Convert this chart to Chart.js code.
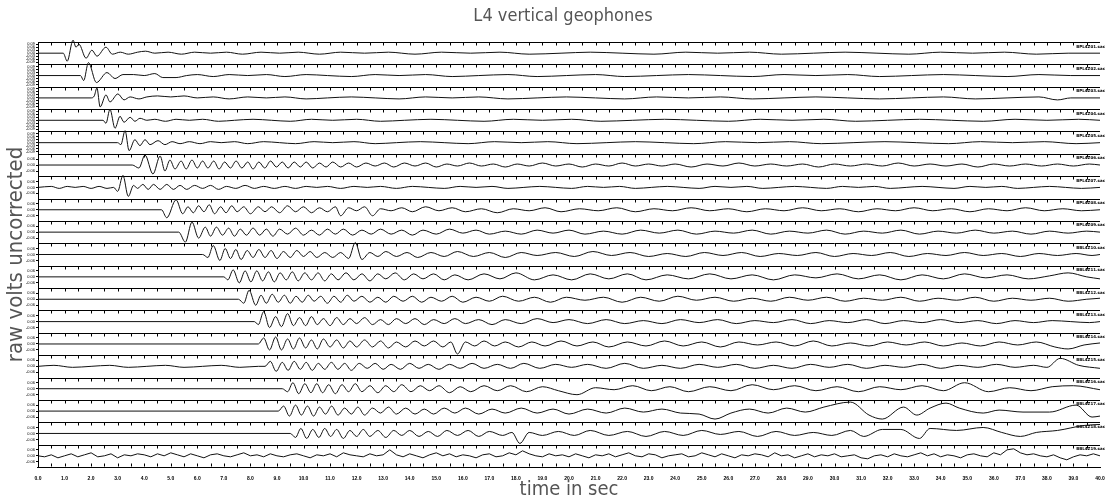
<!DOCTYPE html>
<html><head><meta charset="utf-8">
<script src="https://cdn.jsdelivr.net/npm/chart.js@4.4.1/dist/chart.umd.min.js"></script>
<style>html,body{margin:0;padding:0;background:#fff;overflow:hidden}</style>
</head><body>
<canvas id="c" width="1107" height="504" style="display:block;width:1107px;height:504px"></canvas>
<script>
// ---------- text ----------
const TITLE = 'L4 vertical geophones';
const X_TITLE = 'time in sec';
const Y_TITLE = 'raw volts uncorrected';
const STATION_LABELS = ['BPL4Z01.sac','BPL4Z02.sac','BPL4Z03.sac','BPL4Z04.sac','BPL4Z05.sac','BPL4Z06.sac','BPL4Z07.sac','BPL4Z08.sac','BPL4Z09.sac','BBL4Z10.sac','BBL4Z11.sac','BBL4Z12.sac','BBL4Z13.sac','BBL4Z14.sac','BBL4Z15.sac','BBL4Z16.sac','BBL4Z17.sac','BBL4Z18.sac','BBL4Z19.sac'];
// ---------- axes ----------
const X_MIN = 0, X_MAX = 40, X_TICK_STEP = 1, X_MINOR_STEP = 0.5;
const Y_TICKS_TOP = [-9,-6,-3,0,3,6,9];
const Y_TICKS_LOW = [-6,0,6];
// ---------- traces: [time, value, time, value, ...] ----------
const T1 = [0,0, 0.95,0, 1.1,-8, 1.32,13, 1.43,6, 1.54,9, 1.81,-5, 2.03,3, 2.22,-3, 2.56,6, 2.8,-1, 3.1,1, 3.4,-1, 3.75,1, 4.05,2, 4.4,0, 4.9,1, 5.4,-1, 5.9,1, 6.5,0, 7.1,1, 7.7,-1, 8.4,1, 9.1,0, 9.8,1, 10.6,-1, 11.4,1, 12.3,0, 13.2,1, 14.2,-1, 15.2,1, 16.3,0, 17.4,1, 18.5,-1, 19.7,0, 20.8,1, 22,0, 23.2,-1, 24.4,1, 25.6,0, 26.8,1, 28,-1, 29.2,0, 30.4,1, 31.6,0, 32.8,-1, 34,1, 35.2,0, 36.4,1, 37.6,-1, 38.8,0, 40,0];
const T2 = [0,0, 1.6,0, 1.72,-5, 1.9,13, 2.2,-7, 2.6,3, 2.9,-3, 3.2,1, 3.6,1, 4.0,0, 4.4,2, 4.7,-2, 5.2,-2, 5.6,0, 6.0,1, 6.6,-1, 7.2,1, 7.9,0, 8.6,1, 9.3,-1, 10.1,1, 10.9,0, 11.8,-1, 12.7,1, 13.6,0, 14.6,1, 15.6,-1, 16.6,0, 17.7,1, 18.8,-1, 19.9,0, 21,1, 22.1,-1, 23.3,0, 24.5,1, 25.7,0, 26.9,-1, 28.1,1, 29.3,0, 30.5,1, 31.7,-1, 32.9,0, 34.1,1, 35.3,0, 36.5,-1, 37.7,1, 38.9,0, 40,0];
const T3 = [0,0, 2.0,0, 2.12,2, 2.22,10, 2.34,-9, 2.56,3, 2.71,-4, 3.01,4, 3.24,-2, 3.47,1, 3.8,-1, 4.1,1, 4.5,2, 5.0,1, 5.5,2, 6.0,0, 6.6,1, 7.2,-1, 7.9,1, 8.6,0, 9.3,1, 10.1,-1, 10.9,0, 11.8,1, 12.7,0, 13.6,-1, 14.6,1, 15.6,0, 16.6,1, 17.7,-1, 18.8,0, 19.9,1, 21,0, 22.1,-1, 23.3,1, 24.5,0, 25.7,1, 26.9,-1, 28.1,0, 29.3,1, 30.5,0, 31.7,-1, 32.9,0, 34.1,1, 35.3,-1, 36.5,0, 37.7,1, 38.4,-2, 38.9,0, 40,0];
const T4 = [0,0, 2.45,0, 2.56,-3, 2.71,11, 2.9,-8, 3.09,4, 3.24,-2, 3.47,3, 3.65,-1, 3.84,2, 4.1,0, 4.4,1, 4.8,-1, 5.2,1, 5.7,0, 6.2,1, 6.8,-1, 7.4,0, 8.1,1, 8.8,0, 9.5,-1, 10.3,1, 11.1,0, 12,1, 12.9,-1, 13.8,0, 14.8,1, 15.8,0, 16.8,-1, 17.9,1, 19,0, 20.1,1, 21.2,-1, 22.4,0, 23.6,1, 24.8,0, 26,-1, 27.2,1, 28.4,0, 29.6,1, 30.8,-1, 32,0, 33.2,1, 34.4,0, 35.6,-1, 36.8,1, 38,0, 39.2,1, 40,0];
const T5 = [0,0, 3.0,0, 3.12,-2, 3.28,12, 3.43,-8, 3.65,3, 3.84,-3, 4.03,3, 4.22,-2, 4.52,2, 4.78,-2, 5.05,1, 5.35,-1, 5.7,1, 6.1,-1, 6.5,1, 6.9,0, 7.4,1, 7.9,-1, 8.5,1, 9.1,0, 9.7,-1, 10.4,1, 11.1,0, 11.9,1, 12.7,-1, 13.5,0, 14.4,1, 15.3,0, 16.2,-1, 17.2,1, 18.2,0, 19.2,1, 20.3,-1, 21.4,0, 22.5,1, 23.6,0, 24.7,-1, 25.9,1, 27.1,0, 28.3,1, 29.5,-1, 30.7,0, 31.9,1, 33.1,0, 34.3,-1, 35.5,1, 36.7,0, 37.9,1, 39.1,-1, 40,0];
const T6 = [0,0, 3.55,0, 3.8,-3, 4.03,10, 4.33,-9, 4.6,9, 4.78,-6, 4.97,5, 5.16,-4, 5.39,4, 5.58,-4, 5.8,5, 6.0,-3, 6.2,4, 6.4,-3, 6.62,4, 6.82,-4, 7.03,3, 7.25,-3, 7.46,4, 7.68,-3, 7.9,3, 8.1,-4, 8.32,3, 8.54,-3, 8.76,4, 8.98,-2, 9.2,3, 9.42,-3, 9.65,3, 9.88,-2, 10.1,3, 10.35,-3, 10.6,2, 10.85,-2, 11.1,3, 11.4,-2, 11.7,2, 12.0,-2, 12.35,2, 12.7,-1, 13.05,2, 13.4,-2, 13.8,2, 14.2,-1, 14.6,2, 15.0,-2, 15.4,1, 15.8,-1, 16.25,2, 16.7,-1, 17.15,1, 17.6,-2, 18.05,1, 18.5,-1, 19.0,2, 19.5,-1, 20.0,1, 20.5,-2, 21.0,1, 21.5,-1, 22.0,2, 22.5,-1, 23.0,1, 23.5,-1, 24.0,1, 24.6,-2, 25.2,1, 25.8,-1, 26.4,2, 27.0,-1, 27.6,1, 28.2,-1, 28.8,1, 29.4,-2, 30.0,1, 30.6,-1, 31.2,1, 31.8,-1, 32.4,2, 33.0,-1, 33.6,1, 34.2,-1, 34.8,1, 35.4,-2, 36.0,1, 36.6,-1, 37.2,1, 37.8,-1, 38.4,1, 39.0,-1, 39.6,1, 40,0];
const T7 = [0,0, 0.5,1, 0.8,-1, 1.1,1, 1.4,0, 1.7,1, 2.0,-1, 2.3,1, 2.6,-1, 2.85,0, 3.0,-4, 3.2,12, 3.4,-9, 3.6,2, 3.75,-1, 3.95,3, 4.15,-2, 4.35,3, 4.6,-2, 4.85,3, 5.1,-2, 5.35,2, 5.6,-2, 5.9,2, 6.2,-1, 6.5,2, 6.8,-2, 7.1,1, 7.45,-1, 7.8,2, 8.15,-1, 8.5,1, 8.9,-1, 9.3,1, 9.7,-1, 10.1,1, 10.5,0, 10.9,1, 11.4,-1, 11.9,1, 12.4,0, 12.9,1, 13.5,-1, 14.1,1, 14.7,0, 15.3,-1, 15.9,1, 16.5,0, 17.1,1, 17.7,-1, 18.3,0, 18.9,1, 19.5,0, 20.1,-1, 20.7,1, 21.3,0, 21.9,1, 22.5,-1, 23.1,0, 23.7,1, 24.3,0, 24.9,-1, 25.5,1, 26.1,0, 26.7,1, 27.3,-1, 27.9,0, 28.5,1, 29.1,0, 29.7,-1, 30.3,1, 30.9,0, 31.5,1, 32.1,-1, 32.7,0, 33.3,1, 33.9,0, 34.5,-1, 35.1,1, 35.7,0, 36.3,1, 36.9,-1, 37.5,0, 38.1,1, 38.7,0, 39.3,-1, 40,0];
const T8 = [0,0, 4.65,0, 4.85,-8, 5.2,10, 5.45,-4, 5.65,3, 5.85,-3, 6.05,4, 6.25,-2, 6.45,5, 6.65,-4, 6.88,3, 7.08,-3, 7.3,4, 7.5,-2, 7.75,3, 8.0,-4, 8.3,3, 8.55,-2, 8.8,3, 9.1,-3, 9.4,4, 9.7,-2, 10.0,3, 10.3,-3, 10.6,2, 10.9,-2, 11.2,3, 11.4,-6, 11.7,2, 12.0,-1, 12.3,3, 12.6,-6, 12.9,1, 13.3,-1, 13.7,2, 14.1,-2, 14.6,3, 15.1,-1, 15.6,2, 16.1,-2, 16.7,1, 17.3,-3, 17.9,1, 18.5,-1, 19.1,2, 19.7,-2, 20.4,1, 21.1,-1, 21.8,2, 22.5,-2, 23.2,1, 23.9,-1, 24.6,2, 25.3,-1, 26.0,1, 26.7,-2, 27.4,1, 28.1,-1, 28.8,2, 29.5,-1, 30.2,1, 30.9,-2, 31.6,1, 32.3,-1, 33.0,2, 33.7,-1, 34.4,1, 35.1,-2, 35.8,1, 36.5,-1, 37.2,2, 37.9,-1, 38.6,1, 39.3,-1, 40,0];
const T9 = [0,0, 5.3,0, 5.55,-10, 5.8,10, 6.05,-6, 6.3,5, 6.5,-4, 6.72,5, 6.95,-3, 7.18,4, 7.4,-4, 7.62,3, 7.85,-3, 8.1,4, 8.35,-3, 8.6,3, 8.85,-4, 9.1,3, 9.4,-2, 9.7,4, 10.0,-3, 10.3,2, 10.6,-3, 10.9,3, 11.2,-2, 11.5,3, 11.85,-3, 12.2,2, 12.55,-2, 12.9,3, 13.3,-2, 13.7,2, 14.1,-3, 14.5,2, 15.0,-2, 15.5,3, 16.0,-1, 16.5,2, 17.0,-2, 17.6,1, 18.2,-2, 18.8,2, 19.4,-1, 20.0,2, 20.6,-2, 21.3,1, 22.0,-2, 22.7,2, 23.4,-1, 24.1,2, 24.8,-2, 25.5,1, 26.2,-1, 26.9,2, 27.6,-2, 28.3,1, 29.0,-1, 29.7,2, 30.4,-2, 31.1,1, 31.8,-1, 32.5,2, 33.2,-2, 33.9,1, 34.6,-1, 35.3,2, 36.0,-1, 36.7,1, 37.4,-2, 38.1,1, 38.8,-1, 39.5,1, 40,0];
const T10 = [0,0, 6.2,0, 6.4,-3, 6.6,9, 6.85,-6, 7.05,6, 7.25,-4, 7.45,5, 7.65,-5, 7.88,4, 8.1,-3, 8.32,5, 8.55,-3, 8.78,4, 9.0,-4, 9.25,3, 9.5,-3, 9.75,4, 10.0,-2, 10.25,3, 10.5,-3, 10.8,2, 11.1,-3, 11.4,2, 11.7,-4, 11.95,12, 12.2,-5, 12.5,2, 12.8,-2, 13.1,3, 13.5,-2, 13.9,2, 14.3,-3, 14.8,2, 15.3,-2, 15.8,3, 16.4,-2, 17.0,2, 17.6,-3, 18.2,2, 18.8,-1, 19.5,2, 20.2,-2, 20.9,3, 21.6,-1, 22.3,2, 23.0,-2, 23.7,1, 24.4,-2, 25.1,2, 25.8,-1, 26.5,2, 27.2,-2, 27.9,1, 28.6,-1, 29.3,2, 30.0,-2, 30.7,1, 31.4,-1, 32.1,2, 32.8,-2, 33.5,1, 34.2,-1, 34.9,2, 35.6,-1, 36.3,1, 37.0,-2, 37.7,1, 38.4,-1, 39.1,1, 39.7,-1, 40,0];
const T11 = [0,0, 7.0,0, 7.15,-3, 7.35,7, 7.58,-6, 7.8,6, 8.02,-5, 8.24,6, 8.46,-4, 8.68,5, 8.9,-5, 9.12,4, 9.35,-3, 9.58,5, 9.8,-4, 10.05,4, 10.3,-3, 10.55,4, 10.8,-4, 11.05,3, 11.3,-3, 11.6,4, 11.9,-3, 12.2,3, 12.5,-4, 12.8,3, 13.1,-2, 13.45,4, 13.8,-3, 14.15,3, 14.5,-2, 14.9,3, 15.3,-3, 15.7,2, 16.2,-3, 16.8,3, 17.4,-2, 18.0,4, 18.7,-3, 19.4,2, 20.1,-3, 20.8,3, 21.5,-2, 22.2,3, 22.9,-3, 23.7,2, 24.5,-2, 25.3,3, 26.1,-2, 26.9,2, 27.7,-3, 28.5,2, 29.3,-1, 30.1,3, 30.9,-2, 31.7,2, 32.5,-3, 33.3,2, 34.1,-2, 34.9,3, 35.7,-1, 36.5,2, 37.3,-2, 38.1,1, 38.8,4, 39.5,0, 40,-2];
const T12 = [0,0, 7.55,0, 7.75,-4, 7.95,9, 8.2,-6, 8.4,4, 8.6,-4, 8.82,5, 9.05,-3, 9.28,4, 9.5,-4, 9.72,3, 9.95,-3, 10.18,4, 10.4,-2, 10.65,3, 10.9,-4, 11.15,3, 11.4,-3, 11.65,4, 11.9,-2, 12.2,3, 12.5,-3, 12.8,2, 13.1,-3, 13.4,3, 13.75,-2, 14.1,3, 14.45,-3, 14.8,2, 15.2,-2, 15.6,3, 16.0,-3, 16.5,2, 17.0,-2, 17.5,3, 18.1,-2, 18.7,2, 19.3,-3, 19.9,2, 20.6,-1, 21.3,2, 22.0,-3, 22.7,2, 23.4,-2, 24.1,3, 24.8,-1, 25.5,2, 26.2,-2, 26.9,1, 27.6,-2, 28.3,2, 29.0,-1, 29.7,2, 30.4,-2, 31.1,1, 31.8,-1, 32.5,2, 33.2,-2, 33.9,1, 34.6,-1, 35.3,2, 36.0,-2, 36.7,1, 37.4,-1, 38.1,1, 38.8,-2, 39.5,0, 40,1];
const T13 = [0,0, 8.15,0, 8.3,-3, 8.5,10, 8.72,-6, 8.95,5, 9.17,-5, 9.4,8, 9.62,-4, 9.85,4, 10.08,-4, 10.3,5, 10.52,-3, 10.75,3, 11.0,-4, 11.25,4, 11.5,-3, 11.75,3, 12.0,-2, 12.3,4, 12.6,-3, 12.9,2, 13.2,-3, 13.5,3, 13.85,-2, 14.2,3, 14.55,-3, 14.9,2, 15.3,-2, 15.7,3, 16.1,-2, 16.6,2, 17.1,-3, 17.6,2, 18.2,-2, 18.8,3, 19.4,-1, 20.0,2, 20.7,-2, 21.4,2, 22.1,-2, 22.8,1, 23.5,-2, 24.2,2, 24.9,-1, 25.6,2, 26.3,-2, 27.0,1, 27.7,-1, 28.4,2, 29.1,-2, 29.8,1, 30.5,-1, 31.2,2, 31.9,-2, 32.6,1, 33.3,-1, 34.0,2, 34.7,-1, 35.4,1, 36.1,-2, 36.8,1, 37.5,-1, 38.2,1, 38.9,0, 39.6,-1, 40,0];
const T14 = [0,0, 8.3,0, 8.5,6, 8.72,-6, 8.95,7, 9.17,-6, 9.4,5, 9.62,-5, 9.85,6, 10.08,-4, 10.3,4, 10.52,-5, 10.75,5, 11.0,-3, 11.25,4, 11.5,-4, 11.75,3, 12.0,-3, 12.3,4, 12.6,-3, 12.9,3, 13.2,-4, 13.5,2, 13.85,-3, 14.2,3, 14.55,-2, 14.9,3, 15.25,-3, 15.55,2, 15.8,-10, 16.1,2, 16.45,-2, 16.8,3, 17.2,-2, 17.6,2, 18.1,-3, 18.6,2, 19.1,-2, 19.7,3, 20.3,-2, 20.9,2, 21.5,-3, 22.2,2, 22.9,-2, 23.6,3, 24.3,-2, 25.0,2, 25.7,-3, 26.4,2, 27.1,-1, 27.8,2, 28.5,-2, 29.2,3, 29.9,-2, 30.6,1, 31.3,-2, 32.0,2, 32.7,-1, 33.4,2, 34.1,-2, 34.8,1, 35.5,-2, 36.2,2, 36.9,-1, 37.6,2, 38.3,-3, 38.8,-5, 39.4,-1, 40,1];
const T15 = [0,0, 0.6,1, 1.3,-1, 2.0,0, 2.7,1, 3.4,-1, 4.1,0, 4.8,1, 5.5,-1, 6.2,0, 6.9,1, 7.6,-1, 8.3,0, 8.55,0, 8.75,5, 8.97,-5, 9.2,4, 9.42,-4, 9.65,5, 9.88,-3, 10.1,4, 10.33,-4, 10.56,3, 10.8,-3, 11.05,4, 11.3,-3, 11.55,3, 11.8,-4, 12.1,3, 12.4,-2, 12.7,3, 13.0,-3, 13.3,2, 13.65,-3, 14.0,3, 14.35,-2, 14.7,2, 15.1,-3, 15.5,2, 15.9,-2, 16.35,3, 16.8,-2, 17.3,2, 17.8,-2, 18.3,3, 18.9,-2, 19.5,2, 20.1,-1, 20.7,2, 21.4,-2, 22.1,3, 22.8,-2, 23.5,1, 24.2,-2, 24.9,2, 25.6,-1, 26.3,2, 27.0,-2, 27.7,1, 28.4,-2, 29.1,2, 29.8,-1, 30.5,2, 31.2,-2, 31.9,1, 32.6,-1, 33.3,2, 34.0,-2, 34.7,1, 35.4,-1, 36.1,2, 36.8,-1, 37.5,1, 38.0,-1, 38.5,8, 39.2,1, 40,-2];
const T16 = [0,0, 9.2,0, 9.4,-3, 9.6,6, 9.82,-5, 10.05,5, 10.28,-4, 10.5,5, 10.72,-4, 10.95,4, 11.2,-5, 11.45,4, 11.7,-3, 11.95,5, 12.2,-3, 12.5,3, 12.8,-4, 13.1,3, 13.4,-3, 13.7,4, 14.05,-3, 14.4,3, 14.75,-2, 15.1,3, 15.5,-4, 15.9,2, 16.3,-3, 16.8,3, 17.3,-2, 17.8,3, 18.4,-3, 19.0,2, 19.6,-2, 20.3,-6, 21.0,1, 21.7,-1, 22.4,3, 23.1,-2, 23.8,2, 24.5,-3, 25.3,2, 26.1,-2, 26.9,4, 27.7,-1, 28.5,3, 29.3,-2, 30.1,2, 30.9,-3, 31.7,2, 32.5,-1, 33.3,3, 34.1,-2, 34.9,6, 35.8,-3, 36.6,1, 37.4,-2, 38.2,2, 39.0,3, 40,-1];
const T17 = [0,0, 9.05,0, 9.25,5, 9.47,-5, 9.7,6, 9.92,-4, 10.15,5, 10.38,-5, 10.6,4, 10.83,-3, 11.06,5, 11.3,-4, 11.55,3, 11.8,-3, 12.05,4, 12.3,-4, 12.6,3, 12.9,-2, 13.2,4, 13.5,-3, 13.85,3, 14.2,-3, 14.55,2, 14.9,-3, 15.3,3, 15.7,-2, 16.1,3, 16.6,-3, 17.1,2, 17.6,-2, 18.2,3, 18.8,-2, 19.4,2, 20.0,-3, 20.7,2, 21.4,-2, 22.1,3, 22.8,-1, 23.5,2, 24.2,-2, 24.9,-3, 25.5,-8, 26.1,-2, 26.8,2, 27.5,-2, 28.2,3, 28.9,-1, 29.6,4, 30.6,9, 31.3,-4, 31.8,-8, 32.6,4, 33.1,-4, 33.6,3, 34.2,8, 34.7,3, 35.6,-2, 36.2,1, 37.1,-1, 38.1,-1, 39.1,6, 39.7,-6, 40,-5];
const T18 = [0,0, 9.5,0, 9.7,-4, 9.9,5, 10.12,-5, 10.35,4, 10.58,-4, 10.8,5, 11.02,-3, 11.25,4, 11.5,-5, 11.75,3, 12.0,-3, 12.25,4, 12.5,-3, 12.8,3, 13.1,-4, 13.4,3, 13.7,-2, 14.0,3, 14.35,-3, 14.7,2, 15.05,-3, 15.4,3, 15.8,-2, 16.2,3, 16.6,-3, 17.0,2, 17.5,-2, 17.85,1, 18.15,-10, 18.5,1, 19.0,-2, 19.6,2, 20.2,-2, 20.8,3, 21.5,-2, 22.2,2, 22.9,-3, 23.6,2, 24.3,-2, 25.0,3, 25.7,-1, 26.4,2, 27.1,-3, 27.8,2, 28.5,-2, 29.2,1, 29.9,-2, 30.6,3, 31.1,-3, 31.8,4, 32.5,4, 33.2,-5, 33.6,5, 34.6,3, 35.6,6, 36.3,1, 37.0,-3, 37.6,1, 38.4,3, 39.4,8, 40,9];
// bottom trace (noise), sampled every T19_DT seconds from X_MIN
const T19_DT = 0.25;
const T19 = [0,-1,1,-2,0,2,-1,1,3,-1,0,2,-2,1,0,2,1,-1,2,0,3,1,-1,2,0,-2,1,2,0,-1,1,3,0,1,-1,2,0,-1,1,2,
 0,-2,1,0,2,-1,3,1,0,-1,2,0,1,6,1,-1,2,0,-2,1,3,0,2,-1,1,0,-2,1,2,-1,0,3,1,5,2,0,-1,2,0,1,
 -1,2,0,-2,1,0,2,-1,1,3,0,-1,2,1,-2,0,1,2,-1,0,3,1,-1,2,0,-2,1,0,2,1,-1,3,0,1,-2,0,2,-1,1,0,
 2,-1,0,1,-2,-3,0,1,-1,2,0,-1,1,3,0,2,-1,1,0,-2,1,2,0,-1,3,1,6,7,3,1,2,0,-1,1,-2,-4,-1,1,0,2,0];
const TRACES = [T1,T2,T3,T4,T5,T6,T7,T8,T9,T10,T11,T12,T13,T14,T15,T16,T17,T18];
const N = STATION_LABELS.length;

const FONT = '"DejaVu Sans Condensed","DejaVu Sans",sans-serif';
const toPts = arr => { const o=[]; for (let k=0;k<arr.length;k+=2) o.push({x:arr[k], y:arr[k+1]}); return o; };

const datasets = [];
TRACES.forEach((tr,i)=>datasets.push({data:toPts(tr), yAxisID:'y'+i, borderColor:'#111', borderWidth:1, pointRadius:0, cubicInterpolationMode:'monotone', clip:false}));
datasets.push({data:T19.map((v,k)=>({x:X_MIN+k*T19_DT, y:v})), yAxisID:'y'+(N-1), borderColor:'#111', borderWidth:1, pointRadius:0, tension:0, clip:false});

const scales = {
  x: {type:'linear', position:'bottom', min:X_MIN, max:X_MAX,
      ticks:{stepSize:X_TICK_STEP, autoSkip:false, maxRotation:0, padding:1, color:'#000', font:{size:5, weight:'bold'}, callback:v=>v.toFixed(1)},
      grid:{display:false}, border:{display:true, color:'#000', width:1},
      title:{display:true, text:X_TITLE, color:'#555', font:{size:20, family:FONT}, padding:{top:0,bottom:2}},
      afterFit:s=>{s.height=37;}}
};
for (let i=0;i<N;i++){
  const tv = i<5 ? Y_TICKS_TOP : Y_TICKS_LOW;
  scales['y'+i] = {type:'linear', position:'left', stack:'traces', stackWeight:1, weight:N-i, min:-11.2, max:11.2,
    afterBuildTicks:s=>{ s.ticks = tv.map(v=>({value:v})); },
    ticks:{autoSkip:false, padding:1, color:'#000', font:{size:4}, callback:v=>(v/100).toFixed(2)},
    grid:{display:true, drawOnChartArea:false, drawTicks:true, tickLength:2, color:'#000'},
    border:{display:true, color:'#000', width:1},
    afterFit:s=>{s.width=12;}};
}

const overlay = {
  id:'overlay',
  beforeDatasetsDraw(chart){
    const ctx=chart.ctx, xs=chart.scales.x, a=chart.chartArea;
    ctx.save();
    ctx.strokeStyle='#000'; ctx.lineWidth=1;
    ctx.beginPath();
    for (let i=0;i<N;i++){
      const s=chart.scales['y'+i]; const y=Math.round(s.top)+0.5;
      ctx.moveTo(a.left,y); ctx.lineTo(a.right,y);
      for (let t=X_MIN+X_MINOR_STEP; t<X_MAX; t+=X_MINOR_STEP){
        const px=Math.round(xs.getPixelForValue(t))+0.5; ctx.moveTo(px,y); ctx.lineTo(px,y+3);
      }
    }
    const yb=Math.round(a.bottom)-0.5;
    for (let t=X_MIN+X_MINOR_STEP; t<X_MAX; t+=X_MINOR_STEP){
      const px=Math.round(xs.getPixelForValue(t))+0.5; ctx.moveTo(px,yb); ctx.lineTo(px,yb-3);
    }
    ctx.stroke();
    // station labels
    ctx.fillStyle='#000'; ctx.font='bold 4px "DejaVu Sans"'; ctx.textAlign='right'; ctx.textBaseline='middle';
    for (let i=0;i<N;i++){ const s=chart.scales['y'+i]; ctx.fillText(STATION_LABELS[i], 1105, s.top+4.5); }
    // y title
    ctx.translate(16,(a.top+a.bottom)/2); ctx.rotate(-Math.PI/2);
    ctx.fillStyle='#555'; ctx.font='22px '+FONT; ctx.textAlign='center'; ctx.textBaseline='middle';
    ctx.fillText(Y_TITLE,0,0);
    ctx.restore();
  }
};

new Chart(document.getElementById('c'), {
  type:'line',
  data:{datasets},
  options:{
    responsive:false, animation:false, devicePixelRatio:1, parsing:false, normalized:true,
    layout:{padding:{left:26, right:7, top:0, bottom:0}},
    plugins:{
      legend:{display:false}, tooltip:{enabled:false},
      title:{display:true, text:TITLE, color:'#555', font:{size:18, family:FONT, weight:'normal'}, padding:{top:6, bottom:14.4}}
    },
    scales
  },
  plugins:[overlay]
});
</script>
</body></html>
